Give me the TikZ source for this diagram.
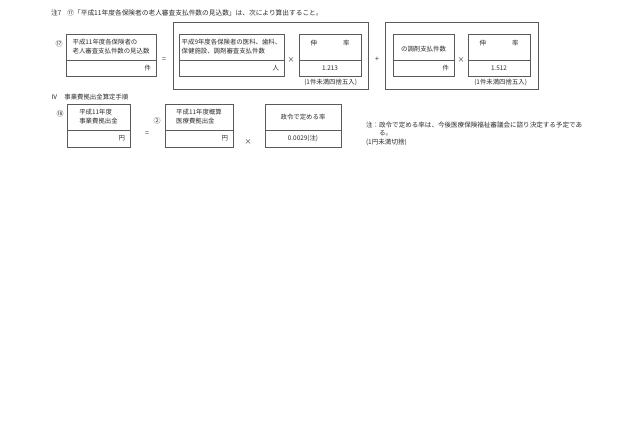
\documentclass[tikz,border=0pt]{standalone}
\usepackage{fontspec}
\setmainfont{Noto Sans CJK JP}
\definecolor{ink}{RGB}{45,45,45}
\definecolor{rulec}{RGB}{90,90,90}
\begin{document}
\begin{tikzpicture}[x=1pt,y=-1pt,
  font=\fontsize{6.4}{9}\selectfont, text=ink,
  every node/.style={inner sep=0pt, outer sep=0pt},
  cell/.style={draw=rulec, line width=0.5pt, anchor=north west},
  topcell/.style={cell, minimum height=26pt, align=left},
  botcell/.style={cell, inner xsep=5pt, align=right},
  frame/.style={draw=rulec, line width=0.5pt, anchor=north west},
  op/.style={font=\fontsize{7}{9}\selectfont},
  lbl/.style={anchor=west}]
\useasboundingbox[fill=white] (0,0) rectangle (630,441);

% header
\node[lbl, font=\fontsize{6.7}{9}\selectfont] (hdr) at (51,13) {注7\hspace{6pt}⑰「平成11年度各保険者の老人審査支払件数の見込数」は、次により算出すること。};

% row 1
\node[font=\fontsize{7}{9}\selectfont] (n17) at (59,44) {⑰};
\node[topcell, minimum width=90pt] (c17t) at (66,34) {平成11年度各保険者の\\老人審査支払件数の見込数};
\node[botcell, text width=80pt, minimum height=16pt] (c17b) at (c17t.south west) {件};
\node[op] (eq1) at (164,60) {=};

\node[frame, minimum width=195pt, minimum height=67pt] (o1) at (173,22) {};
\node[topcell, minimum width=105pt] (cAt) at (179,34) {平成9年度各保険者の医科、歯科、\\保健施設、調剤審査支払件数};
\node[botcell, text width=95pt, minimum height=16pt] (cAb) at (cAt.south west) {人};
\node[op] (x1) at (291,60) {×};
\node[topcell, minimum width=62pt, align=center] (r1t) at (299,34) {伸\hspace{26pt}率\\\mbox{}};
\node[cell, minimum width=62pt, minimum height=16pt, align=center] (r1b) at (r1t.south west) {1.213};
\node[anchor=east] (rd1) at (357,82) {(1件未満四捨五入)};

\node[op] (pl) at (377,59) {+};

\node[frame, minimum width=153pt, minimum height=67pt] (o2) at (385,22) {};
\node[topcell, minimum width=61pt] (cBt) at (393,34) {\mbox{}\\の調剤支払件数};
\node[botcell, text width=51pt, minimum height=16pt] (cBb) at (cBt.south west) {件};
\node[op] (x2) at (461,60) {×};
\node[topcell, minimum width=62pt, align=center] (r2t) at (468,34) {伸\hspace{26pt}率\\\mbox{}};
\node[cell, minimum width=62pt, minimum height=16pt, align=center] (r2b) at (r2t.south west) {1.512};
\node[anchor=east] (rd2) at (527,82) {(1件未満四捨五入)};

% section IV
\node[lbl] (sec) at (51,97) {Ⅳ\hspace{7pt}事業費拠出金算定手順};

\node[font=\fontsize{7}{9}\selectfont] (n18) at (60,114) {⑱};
\node[topcell, minimum width=63pt] (d1t) at (67,104) {平成11年度\\事業費拠出金};
\node[botcell, text width=53pt, minimum height=17pt] (d1b) at (d1t.south west) {円};
\node[op] (eq2) at (147,134) {=};

\node[font=\fontsize{7}{9}\selectfont] (n2) at (157,121) {②};
\node[topcell, minimum width=68pt] (d2t) at (165,104) {平成11年度概算\\医療費拠出金};
\node[botcell, text width=58pt, minimum height=17pt] (d2b) at (d2t.south west) {円};
\node[op] (x3) at (248,142) {×};

\node[topcell, minimum width=76pt, align=center] (d3t) at (265,104) {政令で定める率};
\node[cell, minimum width=76pt, minimum height=17pt, align=center] (d3b) at (d3t.south west) {0.0029(注)};

% note
\begin{scope}[font=\fontsize{6.55}{9}\selectfont]
\node[lbl] (nt1) at (366,125) {注：政令で定める率は、今後医療保険福祉審議会に諮り決定する予定であ};
\node[lbl] (nt2) at (379,133) {る。};
\node[lbl] (nt3) at (366,142) {(1円未満切捨)};
\end{scope}
\end{tikzpicture}
\end{document}
